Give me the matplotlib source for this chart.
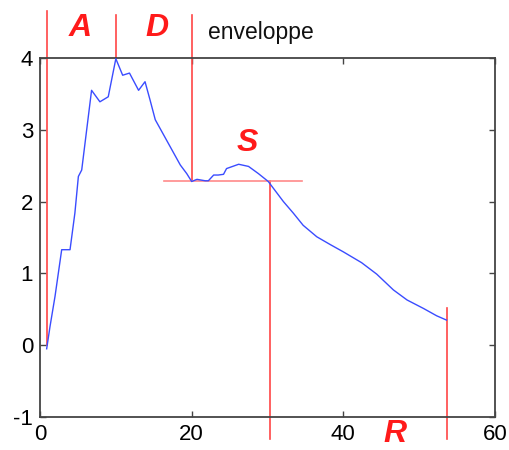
import matplotlib
matplotlib.use("Agg")
import matplotlib.pyplot as plt

# envelope curve
env_x = [0.88, 1.32, 1.98, 2.86, 3.96, 4.6, 5.06, 5.5, 6.8, 7.9, 9.0, 10.0, 10.9,
         11.8, 13.0, 13.85, 14.5, 15.2, 16.3, 17.4, 18.5, 19.35, 20.0, 20.7, 21.8,
         22.2, 22.9, 23.5, 24.2, 24.6, 26.2, 27.5, 28.8, 30.1, 32.1, 33.4, 34.7,
         36.5, 38.3, 40.0, 42.4, 44.4, 46.6, 48.4, 50.6, 52.3, 53.6]
env_y = [-0.05, 0.26, 0.68, 1.33, 1.33, 1.84, 2.35, 2.44, 3.55, 3.39, 3.46, 3.99, 3.76,
         3.79, 3.55, 3.67, 3.42, 3.14, 2.93, 2.72, 2.51, 2.39, 2.28, 2.31, 2.29,
         2.29, 2.37, 2.37, 2.38, 2.46, 2.52, 2.49, 2.39, 2.28, 2.0, 1.84, 1.67,
         1.51, 1.40, 1.30, 1.15, 0.99, 0.77, 0.63, 0.51, 0.41, 0.35]

# ADSR marker lines: (x, y_start, y_end)
vlines = [(0.9, 0.0, 4.65), (10.0, 4.0, 4.6), (20.1, 2.28, 4.6),
          (30.3, -1.3, 2.28), (53.7, -1.3, 0.52)]
sustain = (16.3, 34.6, 2.28)
labels = [("A", 5.3, 4.42), ("D", 15.4, 4.42), ("S", 27.3, 2.82), ("R", 46.8, -1.24)]

xticks = [0, 20, 40, 60]
yticks = [-1, 0, 1, 2, 3, 4]

plt.rcParams['font.family'] = ['Liberation Sans', 'DejaVu Sans']
fig = plt.figure(figsize=(5.09, 4.5), dpi=100)
ax = fig.add_axes([40/509, 33/450, 455/509, 359/450])
ax.plot(env_x, env_y, color='#3a4cff', lw=1.0, zorder=3)

for x, y0, y1 in vlines:
    ax.plot([x, x], [y0, y1], color='#ff4646', lw=1.2, clip_on=False, zorder=2)
ax.plot([sustain[0], sustain[1]], [sustain[2], sustain[2]], color='#ff8a8a',
        lw=1.2, clip_on=False, zorder=2)

for t, x, y in labels:
    ax.text(x, y, t, color='#ff1a1a', fontsize=23, fontweight='bold', fontstyle='italic',
            ha='center', va='center', clip_on=False)
ax.text(22.1, 4.36, "enveloppe", fontsize=16.5, ha='left', va='center', color='#111111')

ax.set_xlim(0, 60)
ax.set_ylim(-1, 4)
ax.set_xticks(xticks)
ax.set_yticks(yticks)
ax.set_xticklabels([str(v) for v in xticks])
ax.set_yticklabels([str(v) for v in yticks])
ax.tick_params(direction='in', top=True, right=True, labelsize=16, length=4,
               width=1, color='#444444', pad=5)
for s in ax.spines.values():
    s.set_color('#444444')
    s.set_linewidth(1.3)

fig.savefig("out.png", dpi=100)
